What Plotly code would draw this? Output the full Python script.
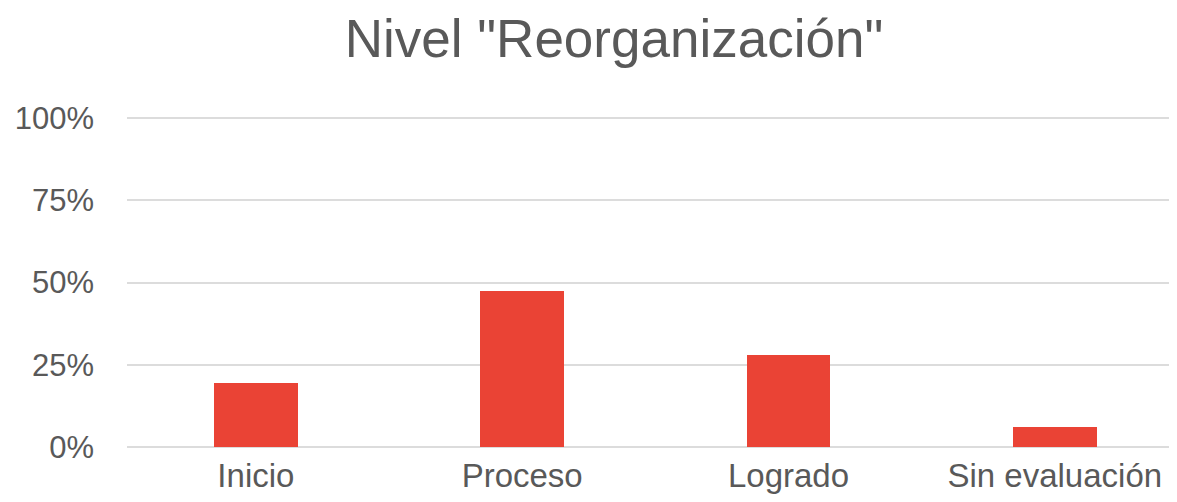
import plotly.graph_objects as go

categories = ["Inicio", "Proceso", "Logrado", "Sin evaluación"]
values = [19.4, 47.4, 28.0, 6.0]
y_ticks = [0, 25, 50, 75, 100]
y_tick_labels = ["0%", "25%", "50%", "75%", "100%"]

W, H = 1169, 494  # page body has an 8px margin

fig = go.Figure()
fig.add_trace(go.Bar(
    x=list(range(len(categories))),
    y=values,
    width=0.315,
    marker=dict(color="#EA4335", line=dict(width=0)),
    hoverinfo="skip",
))

fig.update_layout(
    width=W, height=H,
    margin=dict(l=119, r=0, t=107, b=55),
    paper_bgcolor="white", plot_bgcolor="white",
    font=dict(family="Liberation Sans, Arial, sans-serif", color="#595959"),
    title=dict(text='Nivel "Reorganización"', x=606/W, xanchor="center",
               y=1-30/H, yanchor="middle", yref="container",
               font=dict(size=53, color="#595959")),
    showlegend=False,
    bargap=0,
)
fig.update_xaxes(
    tickmode="array", tickvals=list(range(len(categories))), ticktext=categories,
    range=[-0.484, 3.459], showgrid=False, zeroline=False, showline=False,
    ticks="", tickfont=dict(size=33, color="#595959"), ticklabelstandoff=6,
)
fig.update_yaxes(
    range=[0, 101], tickmode="array", tickvals=y_ticks, ticktext=y_tick_labels,
    showgrid=True, gridcolor="#dcdcdc", gridwidth=2, zeroline=True,
    zerolinecolor="#dcdcdc", zerolinewidth=2, showline=False, ticks="",
    tickfont=dict(size=31, color="#595959"), ticklabelstandoff=32,
)
fig.write_html("out.html")
